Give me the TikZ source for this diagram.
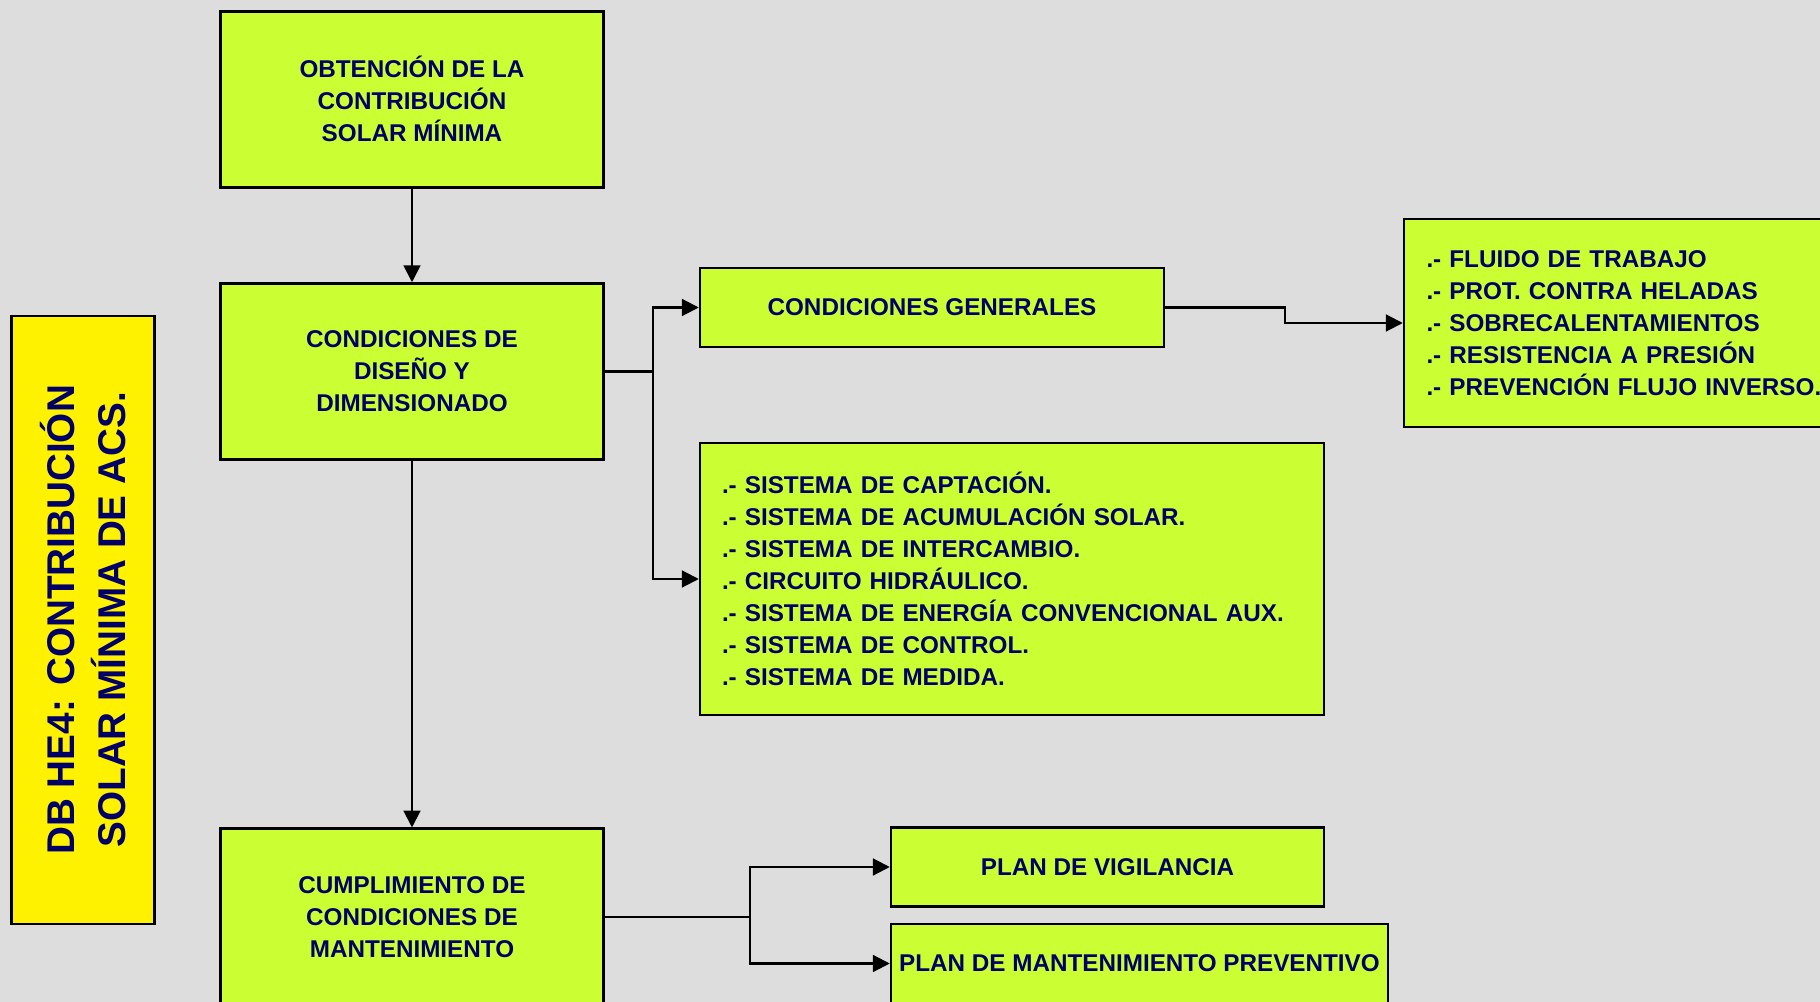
\documentclass[tikz,border=0pt]{standalone}
\usepackage{fontspec}
\setmainfont{Liberation Sans}
\usetikzlibrary{arrows.meta,positioning}

\definecolor{bggrey}{RGB}{221,221,221}
\definecolor{limebox}{RGB}{204,255,51}
\definecolor{navytext}{RGB}{0,0,102}
\newcommand{\boxfont}{\fontsize{6.9}{9.1}\selectfont\bfseries}
\newcommand{\titlefont}{\fontsize{11}{14.6}\selectfont\bfseries}

\tikzset{
  box/.style={draw, line width=0.7pt, fill=limebox, text=navytext, font=\boxfont, align=center, inner sep=0pt},
  bigbox/.style={box, minimum width=3.83cm, minimum height=1.76cm},
  listbox/.style={box, align=left, inner xsep=0.22cm},
  link/.style={line width=0.6pt, -{Triangle[length=4.8pt,width=4.8pt]}}
}

\begin{document}
\begin{tikzpicture}
\path[use as bounding box, fill=bggrey] (0,0) rectangle (18.2,-10.02);

\node[box, fill=yellow, font=\titlefont, rotate=90, minimum width=6.08cm, minimum height=1.43cm] (title) at (0.83,-6.198)
  {DB HE4: CONTRIBUCIÓN\\SOLAR MÍNIMA DE ACS.};

\node[bigbox] (obtencion) at (4.12,-0.993) {OBTENCIÓN DE LA\\CONTRIBUCIÓN\\SOLAR MÍNIMA};
\node[bigbox, below=0.937cm of obtencion] (diseno) {CONDICIONES DE\\DISEÑO Y\\DIMENSIONADO};
\node[bigbox, below=3.668cm of diseno] (mantenim) {CUMPLIMIENTO DE\\CONDICIONES DE\\MANTENIMIENTO};

\node[box, minimum width=4.64cm, minimum height=0.79cm] (generales) at (9.32,-3.075) {CONDICIONES GENERALES};
\node[listbox, text width=4.25cm, minimum height=2.08cm, inner xsep=0.225cm] (fluido) at (16.39,-3.23)
  {.- FLUIDO DE TRABAJO\\
   .- PROT. CONTRA HELADAS\\
   .- SOBRECALENTAMIENTOS\\
   .- RESISTENCIA A PRESIÓN\\
   .- PREVENCIÓN FLUJO INVERSO.};
\node[listbox, text width=5.80cm, minimum height=2.72cm] (sistemas) at (10.12,-5.79)
  {.- SISTEMA DE CAPTACIÓN.\\
   .- SISTEMA DE ACUMULACIÓN SOLAR.\\
   .- SISTEMA DE INTERCAMBIO.\\
   .- CIRCUITO HIDRÁULICO.\\
   .- SISTEMA DE ENERGÍA CONVENCIONAL AUX.\\
   .- SISTEMA DE CONTROL.\\
   .- SISTEMA DE MEDIDA.};

\node[box, minimum width=4.33cm, minimum height=0.79cm] (vigilancia) at (11.075,-8.67) {PLAN DE VIGILANCIA};
\node[box, minimum width=4.97cm, minimum height=0.79cm] (preventivo) at (11.395,-9.635) {PLAN DE MANTENIMIENTO PREVENTIVO};

\draw[link] (obtencion) -- (diseno);
\draw[link] (diseno) -- (mantenim);
\draw[link] (diseno.east) -- ++(0.487,0) |- (generales);
\draw[link] (diseno.east) -- ++(0.487,0) |- (sistemas);
\draw[link] (generales.east) -- ++(1.197,0) |- (fluido);
\draw[link] (mantenim.east) -- ++(1.451,0) |- (vigilancia);
\draw[link] (mantenim.east) -- ++(1.451,0) |- (preventivo);
\end{tikzpicture}
\end{document}
